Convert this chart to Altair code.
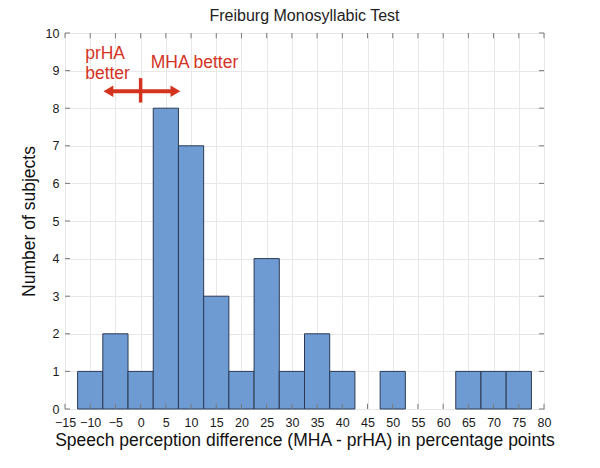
import altair as alt
import pandas as pd

# ---- data ----
bin_centers = [-10, -5, 0, 5, 10, 15, 20, 25, 30, 35, 40, 45, 50, 55, 60, 65, 70, 75]
counts = [1, 2, 1, 8, 7, 3, 1, 4, 1, 2, 1, 0, 1, 0, 0, 1, 1, 1]
bin_width = 5
x_ticks = list(range(-15, 85, 5))
y_ticks = list(range(0, 11))

# annotation (data coordinates)
label_text = ["prHA", "better", "MHA better"]
label_x = [-11, -11, 2]
label_y = [9.45, 8.9, 9.2]
arrow_x = [-6.4, 6.9]
arrow_shape = ["triangle-left", "triangle-right"]
arrow_y = 8.45
divider_x = 0
divider_y = [8.15, 8.8]

RED = "#d4341f"
FONT = "Liberation Sans"
FRAME = "#7a7a7a"

df = pd.DataFrame({"center": bin_centers, "count": counts})
df["start"] = df["center"] - bin_width / 2
df["end"] = df["center"] + bin_width / 2
df["base"] = 0
df = df[df["count"] > 0]

xscale = alt.Scale(domain=[x_ticks[0], x_ticks[-1]], nice=False, zero=False)
yscale = alt.Scale(domain=[y_ticks[0], y_ticks[-1]], nice=False)
x_axis = alt.Axis(values=x_ticks, title="Speech perception difference (MHA - prHA) in percentage points",
                  grid=True, ticks=False, domain=False, labelPadding=7, titlePadding=3,
                  labelFontSize=12.5, titleFontSize=17.5, labelFlush=False)
y_axis = alt.Axis(values=y_ticks, title="Number of subjects", grid=True, ticks=False,
                  domain=False, labelPadding=6, titlePadding=7, labelFontSize=12.5,
                  titleFontSize=17.5, labelFlush=False)


def X(field):
    return alt.X(field, scale=xscale, axis=x_axis)


def Y(field):
    return alt.Y(field, scale=yscale, axis=y_axis)


bars = alt.Chart(df).mark_bar(color="#6f9bd3", stroke="#2a3a55", strokeWidth=1).encode(
    x=X("start:Q"), x2="end:Q", y=Y("count:Q"), y2="base:Q")

# inside tick marks on all four sides (MATLAB box style)
xt = pd.DataFrame({"t": x_ticks})
xt["ylo"], xt["ylo2"], xt["yhi"], xt["yhi2"] = y_ticks[0], y_ticks[0] + 0.14, y_ticks[-1], y_ticks[-1] - 0.14
yt = pd.DataFrame({"t": y_ticks})
yt["xlo"], yt["xlo2"], yt["xhi"], yt["xhi2"] = x_ticks[0], x_ticks[0] + 1.0, x_ticks[-1], x_ticks[-1] - 1.0
tick_style = dict(color=FRAME, strokeWidth=1)
tb = alt.Chart(xt).mark_rule(**tick_style).encode(x=X("t:Q"), y=Y("ylo:Q"), y2="ylo2:Q")
tt = alt.Chart(xt).mark_rule(**tick_style).encode(x=X("t:Q"), y=Y("yhi:Q"), y2="yhi2:Q")
tl = alt.Chart(yt).mark_rule(**tick_style).encode(y=Y("t:Q"), x=X("xlo:Q"), x2="xlo2:Q")
tr = alt.Chart(yt).mark_rule(**tick_style).encode(y=Y("t:Q"), x=X("xhi:Q"), x2="xhi2:Q")

lab = pd.DataFrame({"text": label_text, "x": label_x, "y": label_y})
labels = alt.Chart(lab).mark_text(align="left", baseline="middle", color=RED, fontSize=17.5, font=FONT).encode(
    x=X("x:Q"), y=Y("y:Q"), text="text:N")

arr = pd.DataFrame({"x": arrow_x, "shape": arrow_shape, "y": [arrow_y] * 2})
shaft = alt.Chart(arr).mark_line(color=RED, strokeWidth=4).encode(x=X("x:Q"), y=Y("y:Q"))
heads = alt.Chart(arr).mark_point(color=RED, filled=True, opacity=1, size=130).encode(
    x=X("x:Q"), y=Y("y:Q"), shape=alt.Shape("shape:N", scale=None, legend=None))
div = pd.DataFrame({"x": [divider_x], "y1": [divider_y[0]], "y2": [divider_y[1]]})
divider = alt.Chart(div).mark_rule(color=RED, strokeWidth=3.5).encode(
    x=X("x:Q"), y=Y("y1:Q"), y2="y2:Q")

chart = alt.layer(bars, tb, tt, tl, tr, shaft, heads, divider, labels).properties(
    width=479, height=376,
    title=alt.TitleParams("Freiburg Monosyllabic Test", fontSize=16, fontWeight="normal",
                          font=FONT, color="#222222", offset=3),
    autosize=alt.AutoSizeParams(type="none"),
    padding={"left": 57, "top": 25, "right": 40, "bottom": 52},
).configure_view(stroke=FRAME, strokeWidth=1).configure_axis(
    labelFont=FONT, titleFont=FONT, labelColor="#1a1a1a", titleColor="#111111",
    titleFontWeight="normal", gridColor="#e8e8e8", gridWidth=1
)

chart.save("out.html", embed_options={"renderer": "svg", "actions": False})
